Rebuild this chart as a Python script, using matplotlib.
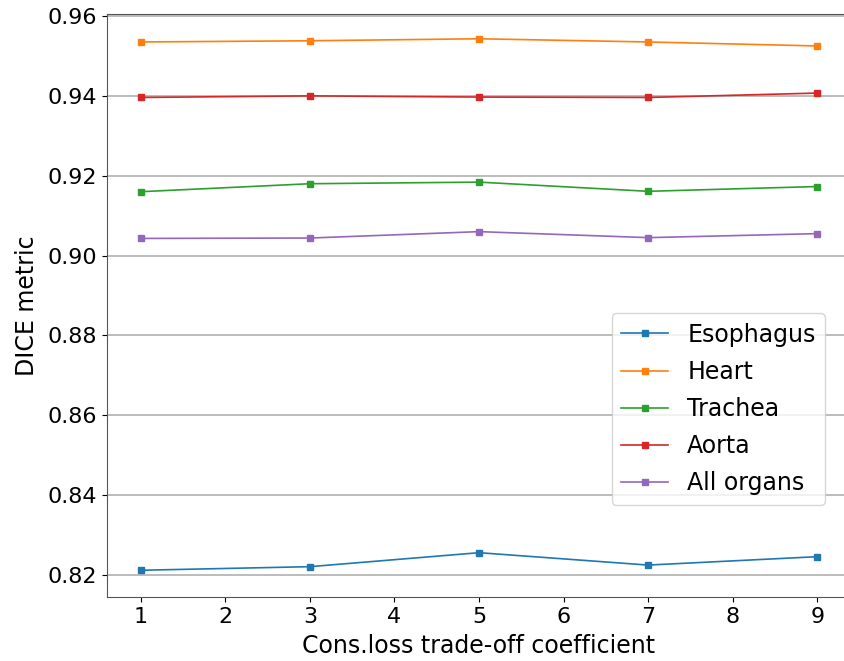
import matplotlib
matplotlib.use('Agg')
import matplotlib.pyplot as plt

# Data
coefficients = [1, 3, 5, 7, 9]
esophagus = [0.8212, 0.8221, 0.8256, 0.8225, 0.8246]
heart = [0.9535, 0.9538, 0.9543, 0.9535, 0.9525]
trachea = [0.9160, 0.9180, 0.9184, 0.9161, 0.9173]
aorta = [0.9396, 0.9400, 0.9397, 0.9396, 0.9407]
all_organs = [0.9043, 0.9044, 0.9060, 0.9045, 0.9055]

series = [
    ('Esophagus', esophagus, '#1f77b4'),
    ('Heart', heart, '#ff7f0e'),
    ('Trachea', trachea, '#2ca02c'),
    ('Aorta', aorta, '#d62728'),
    ('All organs', all_organs, '#9467bd'),
]

fig = plt.figure(figsize=(8.44, 6.61), dpi=100)
# axes run past the right edge, as in the cropped reference
ax = fig.add_axes([0.1268, 0.0968, 0.8815, 0.882])

for name, vals, col in series:
    ax.plot(coefficients, vals, marker='s', markersize=4, linewidth=1.2,
            color=col, label=name)

ax.set_xlim(0.6, 9.4)
ax.set_ylim(0.8145, 0.9605)
ax.set_xticks(range(1, 10))
ax.set_yticks([0.82, 0.84, 0.86, 0.88, 0.90, 0.92, 0.94, 0.96])
ax.yaxis.grid(True, color='#b0b0b0', linewidth=1.2)
ax.set_axisbelow(True)
ax.tick_params(labelsize=16)
for s in ax.spines.values():
    s.set_color('#555555')

ax.set_xlabel('Cons.loss trade-off coefficient', fontsize=17, labelpad=5)
ax.set_ylabel('DICE metric', fontsize=17, labelpad=6)

ax.legend(loc='lower right', bbox_to_anchor=(0.965, 0.158), borderaxespad=0,
          fontsize=17, labelspacing=0.56)

plt.savefig('out.png', dpi=100)
